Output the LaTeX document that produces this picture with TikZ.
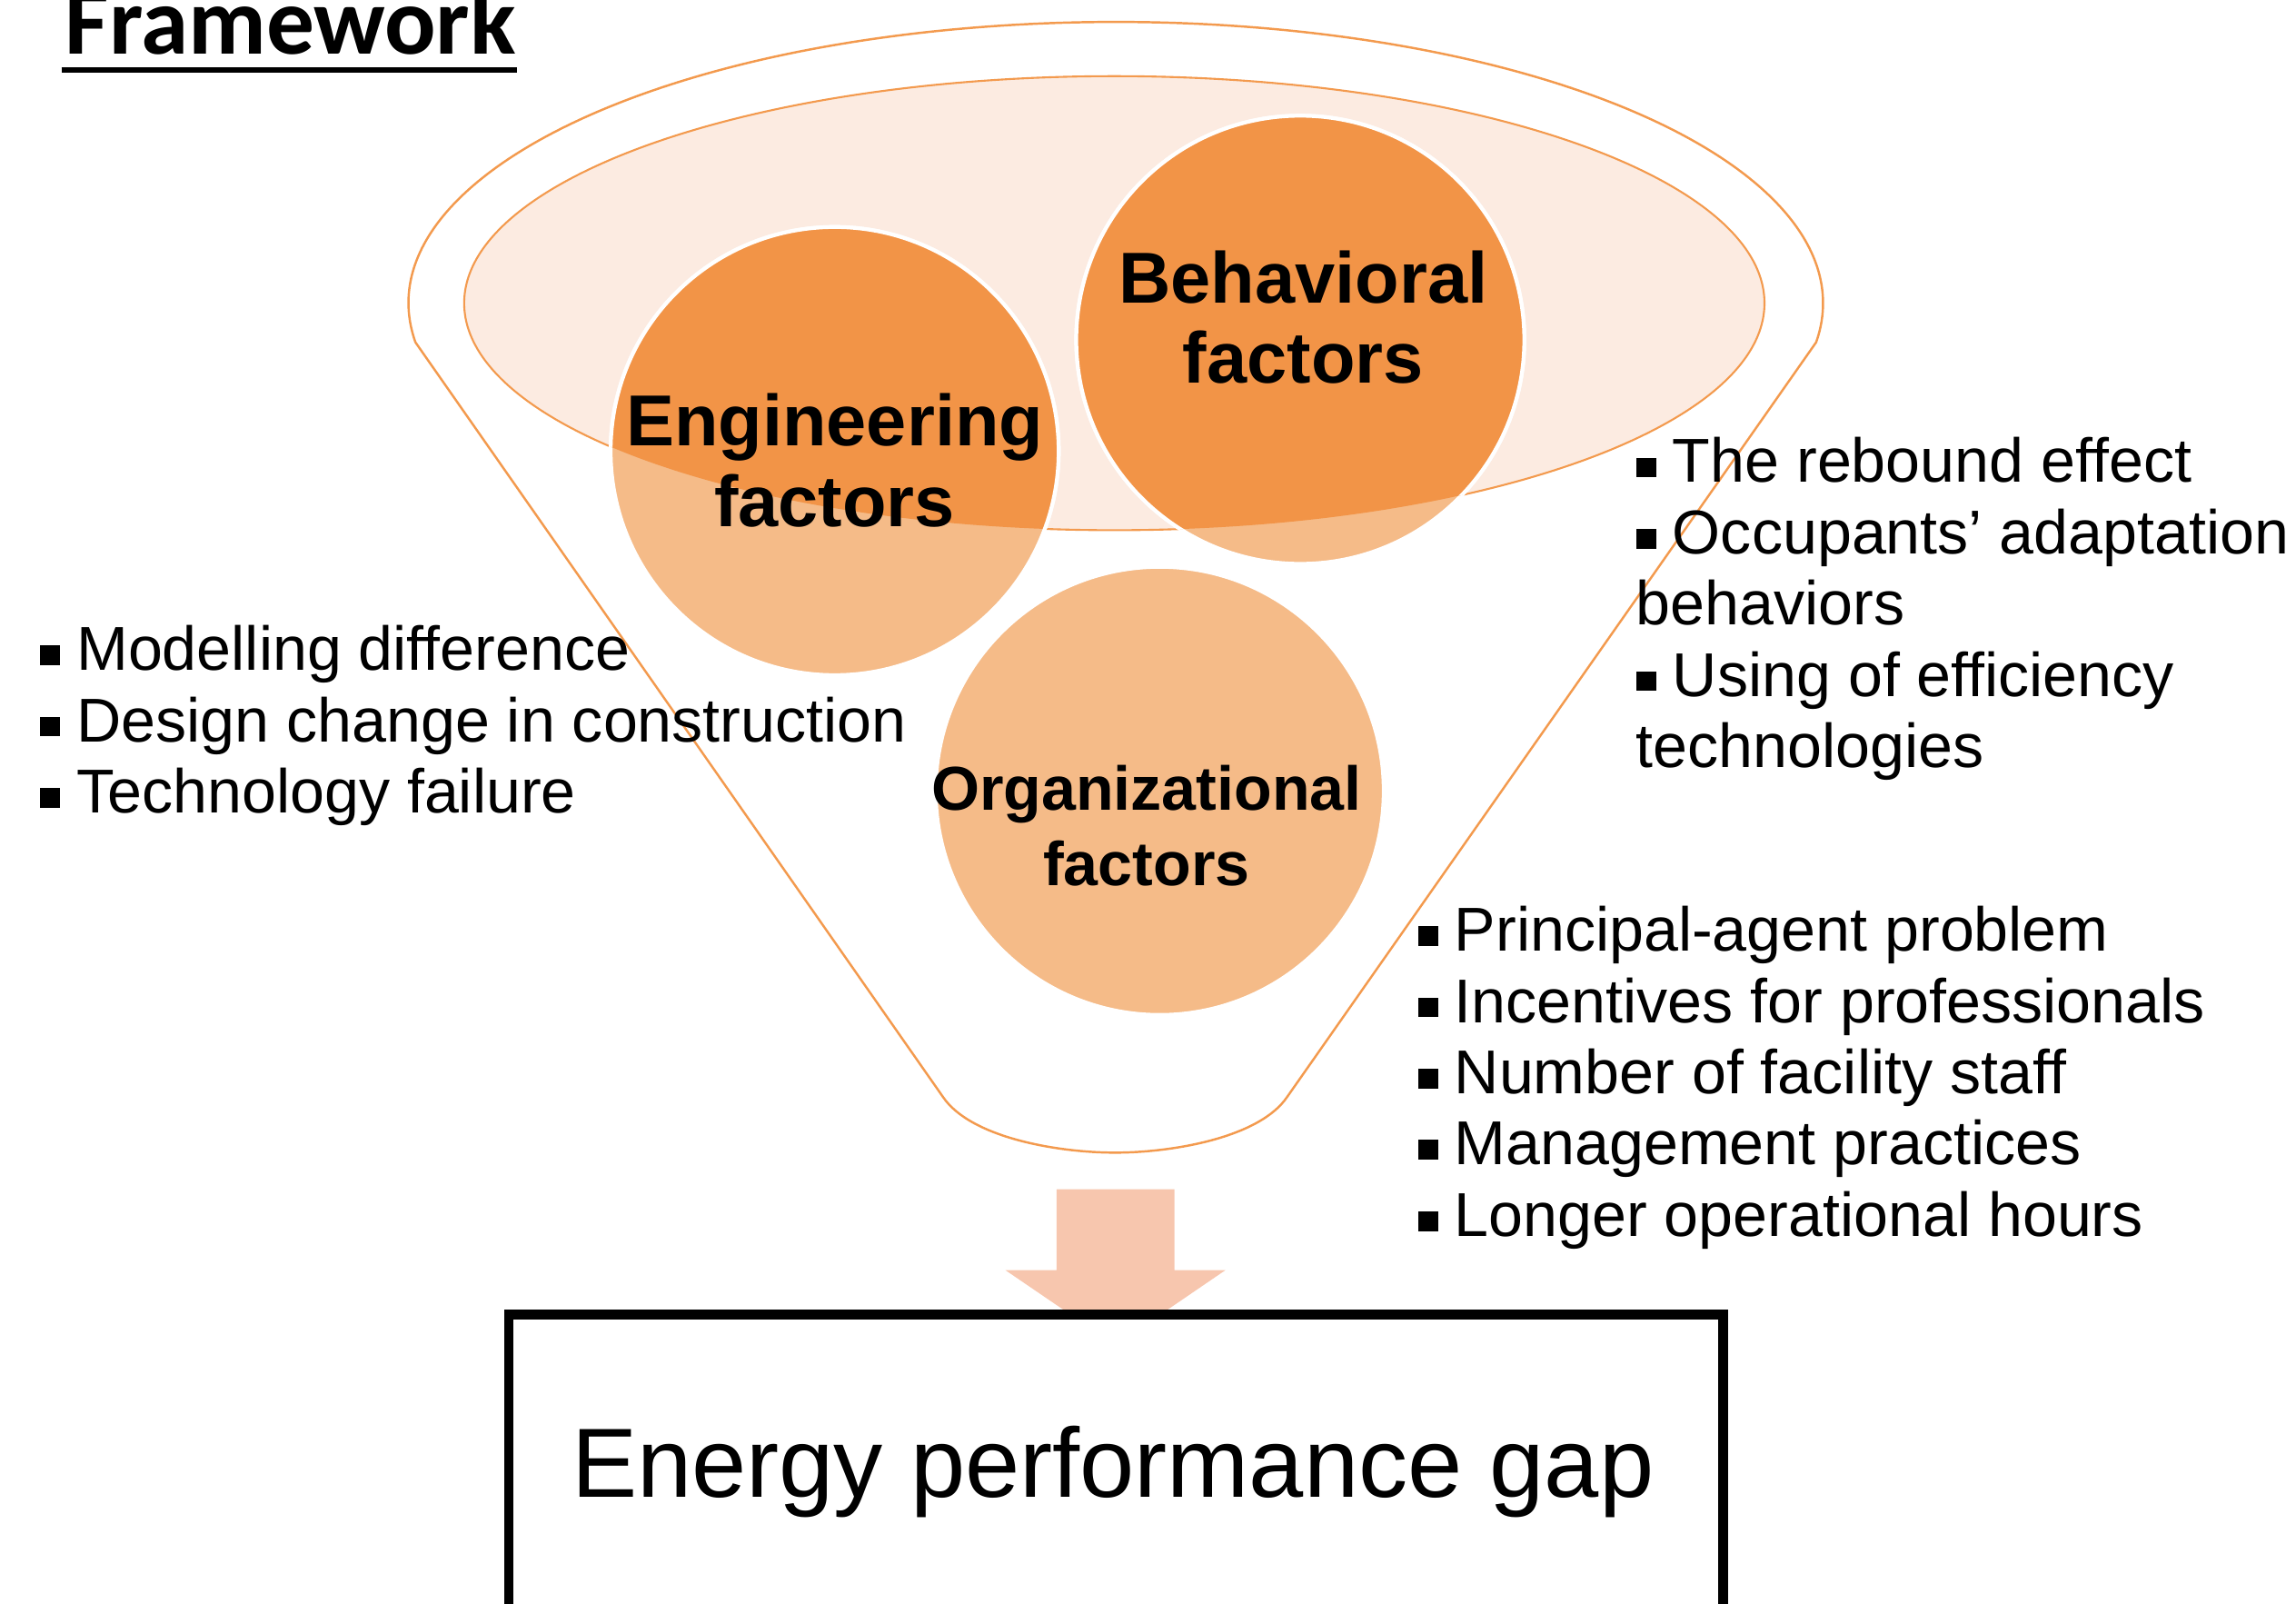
\documentclass[tikz,border=0pt]{standalone}
\usepackage{fontspec}
\setmainfont{Liberation Sans}
\newfontfamily\titlefont{Carlito}
\usetikzlibrary{calc}

\definecolor{funnelline}{HTML}{F39A4E}
\definecolor{darkfactor}{HTML}{F29447}
\definecolor{lightfactor}{HTML}{F5BB88}
\definecolor{rimfill}{HTML}{FCEBE1}
\definecolor{arrowfill}{HTML}{F7C6AE}

\newcommand{\sqbullet}{\rule[1.6pt]{6.2pt}{6.2pt}\hspace{5.2pt}}

\begin{document}
\begin{tikzpicture}[x=0.16116mm, y=0.16116mm,
        factortext/.style={align=center, inner sep=0pt, font=\bfseries\fontsize{22.6}{25.2}\selectfont},
        causes/.style={align=left, inner sep=0pt, anchor=base west, font=\fontsize{19.4}{22.3}\selectfont}]
        \useasboundingbox (0, 0) rectangle (1568, 1095);

        \coordinate (rim) at (761, 888);
        \coordinate (eng) at (570, 787);
        \coordinate (beh) at (888, 863);
        \coordinate (org) at (792, 555);

        % funnel
        \draw[funnelline, line width=0.7pt] (283.7, 861.3)
            arc[start angle=188, end angle=-8, x radius=483, y radius=192]
            -- (879, 346) .. controls (860, 318) and (800, 308) .. (761.5, 308)
            .. controls (723, 308) and (663, 318) .. (644, 346) -- cycle;
        \draw[funnelline, line width=0.6pt, fill=rimfill] (rim) ellipse[x radius=444, y radius=155];

        % the three factors
        \foreach \c in {eng, beh, org}
            \draw[white, line width=1.2pt, fill=lightfactor] (\c) circle[radius=153];
        \begin{scope}
            \clip (rim) ellipse[x radius=444, y radius=155];
            \foreach \c in {eng, beh}
                \draw[white, line width=1.2pt, fill=darkfactor] (\c) circle[radius=153];
        \end{scope}
        \node[factortext] (engtext) at (570, 780.5) {Engineering\\factors};
        \node[factortext] (behtext) at (890, 878.5) {Behavioral\\factors};
        \node[factortext, font=\bfseries\fontsize{19.4}{23.6}\selectfont] (orgtext) at (783, 531) {Organizational\\factors};

        % causes (placed by the baseline of their last line)
        \node[causes] (engcauses) at (27, 540) {\sqbullet Modelling difference\\\sqbullet Design change in construction\\\sqbullet Technology failure};
        \node[causes] (behcauses) at (1117, 571) {\sqbullet The rebound effect\\\sqbullet Occupants’ adaptation\\behaviors\\\sqbullet Using of efficiency\\technologies};
        \node[causes] (orgcauses) at (968, 251) {\sqbullet Principal-agent problem\\\sqbullet Incentives for professionals\\\sqbullet Number of facility staff\\\sqbullet Management practices\\\sqbullet Longer operational hours};

        % outcome
        \fill[arrowfill] (721.5, 283) -- (802, 283) -- (802, 227.7) -- (836.8, 227.7)
            -- (761.8, 176.5) -- (686.7, 227.7) -- (721.5, 227.7) -- cycle;
        \draw[line width=3.1pt, fill=white] (347.5, -40) rectangle (1176.5, 197.4);
        \node[inner sep=0pt, anchor=base, font=\fontsize{30.8}{30.8}\selectfont] (gap) at (760, 73) {Energy performance gap};

        \node[inner sep=0pt, anchor=base west, font=\titlefont\bfseries\fontsize{30}{30}\selectfont] (title) at (44, 1057.8) {Framework};
        \draw[line width=1.7pt] ($(title.base west)+(-2, -10.6)$) -- ($(title.base east)+(0, -10.6)$);
    \end{tikzpicture}
\end{document}
